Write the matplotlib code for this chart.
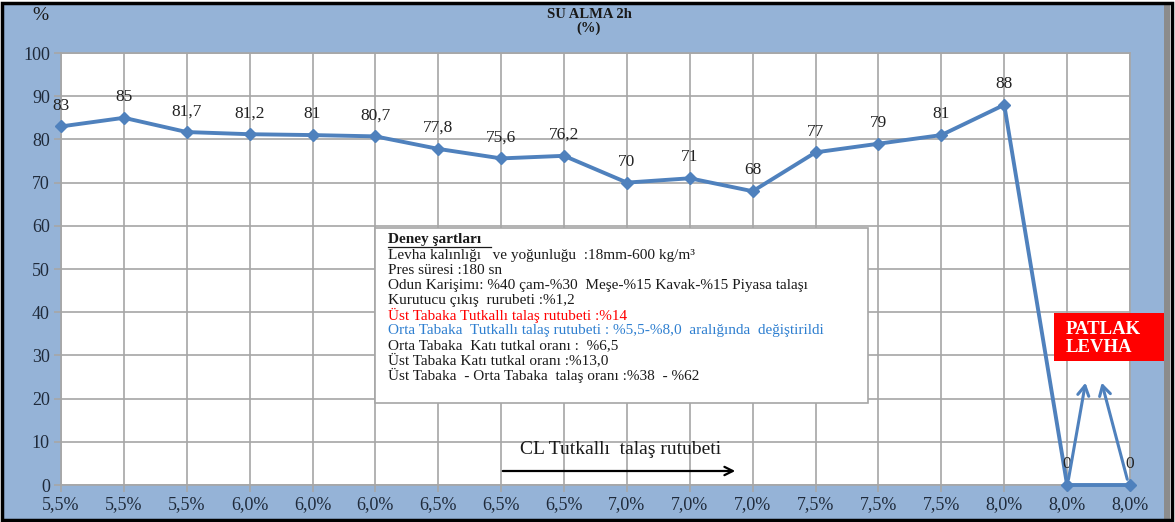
import matplotlib
matplotlib.use("Agg")
import matplotlib.pyplot as plt
from matplotlib.patches import Rectangle, FancyArrowPatch

# Orta tabaka tutkallı talaş rutubeti (kategori etiketleri) ve 2 saatlik su alma (%)
categories = ["5,5%", "5,5%", "5,5%", "6,0%", "6,0%", "6,0%", "6,5%", "6,5%", "6,5%",
              "7,0%", "7,0%", "7,0%", "7,5%", "7,5%", "7,5%", "8,0%", "8,0%", "8,0%"]
su_alma = [83, 85, 81.7, 81.2, 81, 80.7, 77.8, 75.6, 76.2,
           70, 71, 68, 77, 79, 81, 88, 0, 0]
value_labels = ["83", "85", "81,7", "81,2", "81", "80,7", "77,8", "75,6", "76,2",
                "70", "71", "68", "77", "79", "81", "88", "0", "0"]
y_ticks = [0, 10, 20, 30, 40, 50, 60, 70, 80, 90, 100]

conditions = [
    ("Levha kalınlığı   ve yoğunluğu  :18mm-600 kg/m³", "#1a1a1a"),
    ("Pres süresi :180 sn", "#1a1a1a"),
    ("Odun Karişimı: %40 çam-%30  Meşe-%15 Kavak-%15 Piyasa talaşı", "#1a1a1a"),
    ("Kurutucu çıkış  rurubeti :%1,2", "#1a1a1a"),
    ("Üst Tabaka Tutkallı talaş rutubeti :%14", "#ff0000"),
    ("Orta Tabaka  Tutkallı talaş rutubeti : %5,5-%8,0  aralığında  değiştirildi", "#2e7fd0"),
    ("Orta Tabaka  Katı tutkal oranı :  %6,5", "#1a1a1a"),
    ("Üst Tabaka Katı tutkal oranı :%13,0", "#1a1a1a"),
    ("Üst Tabaka  - Orta Tabaka  talaş oranı :%38  - %62", "#1a1a1a"),
]

W, H = 1175, 522
serif = ["Liberation Serif", "DejaVu Serif"]
plt.rcParams["font.family"] = serif

fig = plt.figure(figsize=(W / 100, H / 100), dpi=100)
fig.patch.set_facecolor("white")

# blue chart background with dark frame and shadow
fig.add_artist(Rectangle((2 / W, 3 / H), 1166 / W, 516 / H, transform=fig.transFigure,
                         facecolor="#95b3d7", edgecolor="none", zorder=0))
fig.add_artist(Rectangle((1164 / W, 3 / H), 6 / W, 516 / H, transform=fig.transFigure,
                         facecolor="#8c8c8c", edgecolor="none", zorder=0.5))
fig.add_artist(Rectangle((1.5 / W, 2.5 / H), 1170 / W, 517 / H, transform=fig.transFigure,
                         facecolor="none", edgecolor="black", linewidth=2.5, zorder=1))

left, right, top, bottom = 61, 1130, 53, 485
ax = fig.add_axes([left / W, 1 - bottom / H, (right - left) / W, (bottom - top) / H])
ax.set_facecolor("white")

x = list(range(len(categories)))
ax.plot(x, su_alma, color="#4f81bd", linewidth=2.8, marker="D", markersize=6.5,
        markerfacecolor="#4f81bd", markeredgecolor="#4f81bd", zorder=5, clip_on=False)

for xi, yi, lab in zip(x, su_alma, value_labels):
    ax.annotate(lab, (xi, yi), xytext=(0, 15), textcoords="offset points",
                ha="center", va="center", fontsize=12.5, color="#222222", zorder=6)

ax.set_xlim(0, len(categories) - 1)
ax.set_ylim(0, 100)
ax.set_xticks(x)
ax.set_xticklabels(categories, fontsize=13, color="#1f2a3a")
ax.set_yticks(y_ticks)
ax.set_yticklabels([str(v) for v in y_ticks], fontsize=13, color="#1f2a3a")
ax.grid(True, color="#a6a6a6", linewidth=1.2)
ax.set_axisbelow(True)
ax.tick_params(axis="both", length=5, color="#a6a6a6", width=1.2, pad=3)
for s in ax.spines.values():
    s.set_color("#a6a6a6")
    s.set_linewidth(1.2)

# titles
fig.text(589 / W, 1 - 15 / H, "SU ALMA 2h", ha="center", va="center",
         fontsize=10.5, fontweight="bold", color="#1a1a1a")
fig.text(589 / W, 1 - 28 / H, "(%)", ha="center", va="center",
         fontsize=10.5, fontweight="bold", color="#1a1a1a")
fig.text(40 / W, 1 - 15 / H, "%", ha="center", va="center", fontsize=14, color="#1a1a1a")

# experimental conditions box
fig.add_artist(Rectangle((375 / W, 1 - 403 / H), 493 / W, 175 / H, transform=fig.transFigure,
                         facecolor="white", edgecolor="#a6a6a6", linewidth=1.2, zorder=7))
fig.text(388 / W, 1 - 239 / H, "Deney şartları", ha="left", va="center",
         fontsize=11, fontweight="bold", color="#1a1a1a", zorder=8)
fig.add_artist(plt.Line2D([388 / W, 491 / W], [1 - 246.5 / H, 1 - 246.5 / H],
                          transform=fig.transFigure, color="#1a1a1a", linewidth=0.9, zorder=8))
for i, (line, col) in enumerate(conditions):
    fig.text(388 / W, 1 - (256 + 14.9 * i) / H, line, ha="left", va="center",
             fontsize=11, color=col, zorder=8)

# moisture direction arrow
fig.text(621 / W, 1 - 450 / H, "CL Tutkallı  talaş rutubeti", ha="center", va="center",
         fontsize=14, color="#1a1a1a", zorder=8)
fig.add_artist(FancyArrowPatch((500 / W, 1 - 471 / H), (738 / W, 1 - 471 / H),
                               transform=fig.transFigure, arrowstyle="->,head_length=6,head_width=3",
                               color="black", linewidth=1.6, zorder=8))

# burst board marker
fig.add_artist(Rectangle((1054 / W, 1 - 361 / H), 110 / W, 48 / H, transform=fig.transFigure,
                         facecolor="#ff0000", edgecolor="none", zorder=9))
fig.text(1066 / W, 1 - 329 / H, "PATLAK", ha="left", va="center", fontsize=13.5,
         fontweight="bold", color="white", zorder=10)
fig.text(1066 / W, 1 - 347 / H, "LEVHA", ha="left", va="center", fontsize=13.5,
         fontweight="bold", color="white", zorder=10)
for (x0, y0), (x1, y1) in [((1068, 482), (1086, 380)), ((1128, 482), (1101, 380))]:
    fig.add_artist(FancyArrowPatch((x0 / W, 1 - y0 / H), (x1 / W, 1 - y1 / H),
                                   transform=fig.transFigure,
                                   arrowstyle="->,head_length=7,head_width=4",
                                   color="#4f81bd", linewidth=2.2, zorder=9))

fig.savefig("out.png", dpi=100, facecolor="white")
